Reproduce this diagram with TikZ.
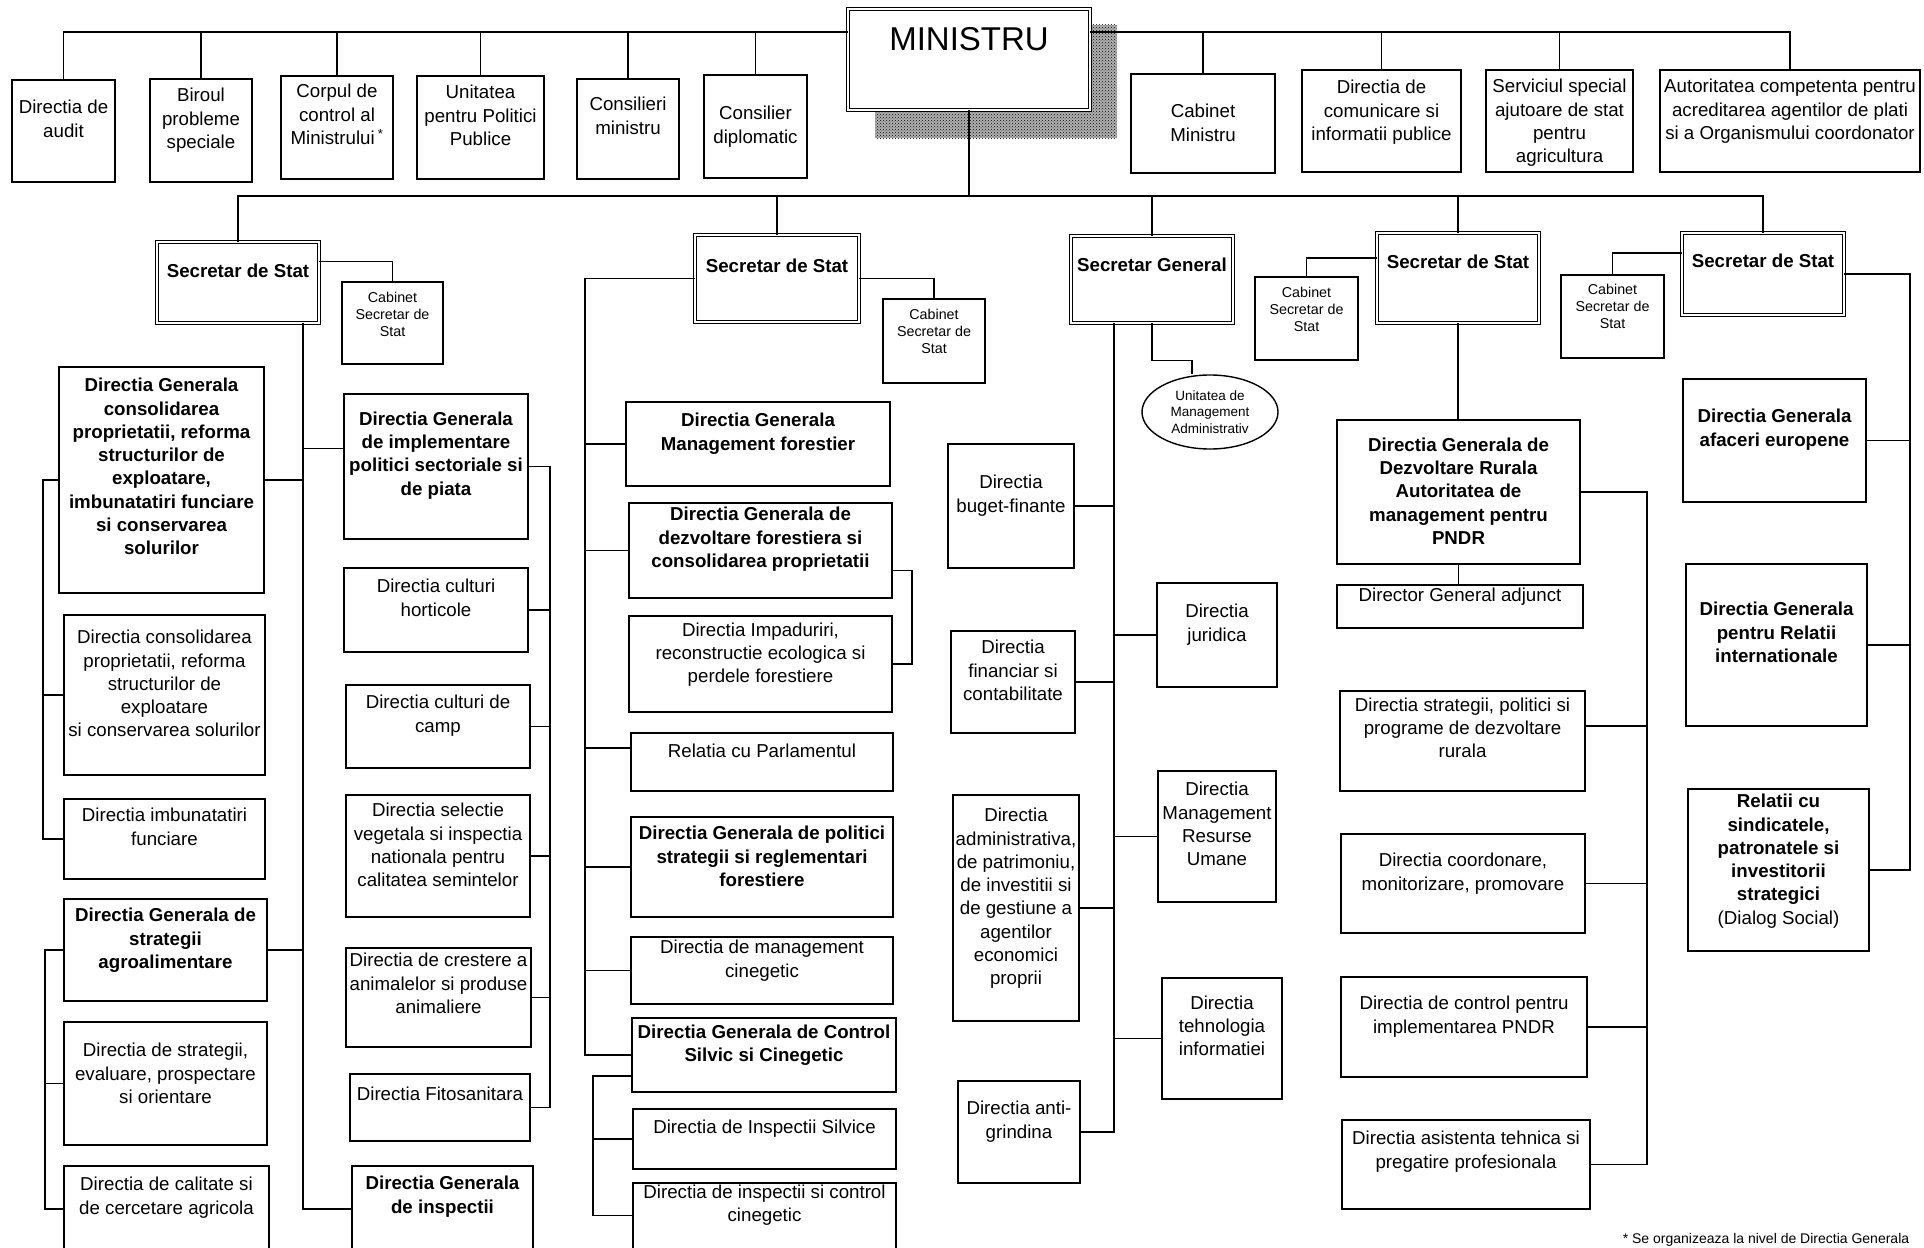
\documentclass[tikz,border=0pt]{standalone}
\usepackage{fontspec}
\setmainfont{Liberation Sans}
\usetikzlibrary{shapes.geometric,patterns}

% box from (x1,y1) to (x2,y2), text hung from its top
\newcommand{\unitbox}[7][tx]{%
  \node[box, minimum width={#5-#3}, minimum height={#6-#4}] (#2) at ({(#3+#5)/2},{(#4+#6)/2}) {};
  \node[#1] (#2-t) at (#2.north) {#7};}

\begin{document}
\begin{tikzpicture}[x=1pt,y=-1pt]
		\tikzstyle{box}=[draw, line width=1.6pt, fill=white, inner sep=0pt, outer sep=0pt]
		\tikzstyle{sec}=[box, double=white, double distance=2.5pt, line width=1.2pt]
		\tikzstyle{tx}=[anchor=north, align=center, inner sep=0pt, font={\fontsize{18.7}{23.3}\selectfont}]
		\tikzstyle{bf}=[tx, font={\fontsize{18.7}{23.3}\selectfont\bfseries}]
		\tikzstyle{sm}=[tx, font={\fontsize{14.3}{17}\selectfont}]
		\tikzstyle{link}=[line width=1.1pt]
		\useasboundingbox (0,0) rectangle (1924,1247);

		% ministru
		\fill[black!30] (875,25) rectangle (1117,138);
		\fill[pattern=crosshatch dots, pattern color=black] (875,25) rectangle (1117,138);
		\node[sec, minimum width=242pt, minimum height=101pt] (min) at (969,59.5) {};
		\node[tx, font={\fontsize{33}{40}\selectfont}, yshift=-18pt] (min-t) at (min.north) {MINISTRU};

		% first row
		\unitbox[tx,yshift=-20pt]{audit}{12}{80}{115}{182}{Directia de\\audit}
		\unitbox[tx,yshift=-9pt]{biroul}{150}{79}{252}{182}{Biroul\\probleme\\speciale}
		\unitbox[tx,yshift=-8pt]{corpul}{281}{76}{393}{179}{Corpul de\\control al\\Ministrului\,\textsuperscript{*}}
		\unitbox[tx,yshift=-9pt]{unitatea}{417}{76}{544}{179}{Unitatea\\pentru Politici\\Publice}
		\unitbox[tx,yshift=-18pt]{consilieri}{577}{79}{679}{179}{Consilieri\\ministru}
		\unitbox[tx,yshift=-31pt]{diplomatic}{704}{75}{807}{178}{Consilier\\diplomatic}
		\unitbox[tx,yshift=-30pt]{cabmin}{1131}{74}{1275}{173}{Cabinet\\Ministru}
		\unitbox[tx,yshift=-10pt]{comunic}{1302}{70}{1461}{172}{Directia de\\comunicare si\\informatii publice}
		\unitbox[tx,yshift=-9pt]{serviciul}{1486}{70}{1633}{172}{Serviciul special\\ajutoare de stat\\pentru\\agricultura}
		\unitbox[tx,yshift=-9pt]{autoritatea}{1660}{70}{1920}{172}{Autoritatea competenta pentru\\acreditarea agentilor de plati\\si a Organismului coordonator}

		\coordinate (topl) at (0,32);
		\draw[link] (audit.north) |- (min.west |- topl);
		\foreach \n in {biroul,corpul,unitatea,consilieri,diplomatic}
			\draw[link] (\n.north) -- (\n.north |- topl);
		\draw[link] (autoritatea.north) |- (min.east |- topl);
		\foreach \n in {cabmin,comunic,serviciul}
			\draw[link] (\n.north) -- (\n.north |- topl);

		% secretaries
		\node[sec, minimum width=162pt, minimum height=81pt] (ss1) at (238,282.5) {};
		\node[bf, yshift=-22pt] (ss1-t) at (ss1.north) {Secretar de Stat};
		\node[sec, minimum width=164pt, minimum height=87pt] (ss2) at (777,278.5) {};
		\node[bf, yshift=-24pt] (ss2-t) at (ss2.north) {Secretar de Stat};
		\node[sec, minimum width=162pt, minimum height=87pt] (sg) at (1152,279.5) {};
		\node[bf, yshift=-22pt] (sg-t) at (sg.north) {Secretar General};
		\node[sec, minimum width=162pt, minimum height=90pt] (ss4) at (1458,278) {};
		\node[bf, yshift=-22pt] (ss4-t) at (ss4.north) {Secretar de Stat};
		\node[sec, minimum width=162pt, minimum height=82pt] (ss5) at (1763,274) {};
		\node[bf, yshift=-21pt] (ss5-t) at (ss5.north) {Secretar de Stat};

		\coordinate (bus) at (0,196);
		\draw[link] (min.south) -- (min.south |- bus);
		\draw[link] (ss1.north) |- (ss5.north |- bus) -- (ss5.north);
		\foreach \n in {ss2,sg,ss4}
			\draw[link] (\n.north) -- (\n.north |- bus);

		% cabinets
		\unitbox[sm,yshift=-10pt]{c1}{342}{282}{443}{364}{Cabinet\\Secretar de\\Stat}
		\unitbox[sm,yshift=-10pt]{c2}{883}{299}{985}{383}{Cabinet\\Secretar de\\Stat}
		\unitbox[sm,yshift=-10pt]{c4}{1255}{277}{1358}{360}{Cabinet\\Secretar de\\Stat}
		\unitbox[sm,yshift=-9pt]{c5}{1561}{275}{1664}{358}{Cabinet\\Secretar de\\Stat}
		\draw[link] ([yshift=21pt]ss1.east) -| (c1.north);
		\draw[link] (ss2.east) -| (c2.north);
		\draw[link] ([yshift=20pt]ss4.west) -| (c4.north);
		\draw[link] ([yshift=21pt]ss5.west) -| (c5.north);

		% first secretar de stat
		\unitbox[bf,yshift=-11pt]{dgc}{59}{367}{264}{593}{Directia Generala\\consolidarea\\proprietatii, reforma\\structurilor de\\exploatare,\\imbunatatiri funciare\\si conservarea\\solurilor}
		\unitbox[bf,yshift=-17.5pt]{dgimpl}{344}{394}{528}{539}{Directia Generala\\de implementare\\politici sectoriale si\\de piata}
		\unitbox[tx,yshift=-15pt]{dcons}{64}{615}{265}{775}{Directia consolidarea\\proprietatii, reforma\\structurilor de\\exploatare\\si conservarea solurilor}
		\unitbox[tx,yshift=-11pt]{hort}{344}{568}{528}{652}{Directia culturi\\horticole}
		\unitbox[tx,yshift=-10pt]{camp}{346}{685}{530}{768}{Directia culturi de\\camp}
		\unitbox[tx,yshift=-9pt]{imb}{64}{799}{265}{879}{Directia imbunatatiri\\funciare}
		\unitbox[tx,yshift=-8pt]{selectie}{346}{795}{530}{917}{Directia selectie\\vegetala si inspectia\\nationala pentru\\calitatea semintelor}
		\unitbox[bf,yshift=-9pt]{dgsa}{64}{899}{267}{1001}{Directia Generala de\\strategii\\agroalimentare}
		\unitbox[tx,yshift=-5pt]{crestere}{346}{948}{531}{1047}{Directia de crestere a\\animalelor si produse\\animaliere}
		\unitbox[tx,yshift=-21pt]{strev}{64}{1022}{267}{1145}{Directia de strategii,\\evaluare, prospectare\\si orientare}
		\unitbox[tx,yshift=-13pt]{fito}{350}{1074}{530}{1141}{Directia Fitosanitara}
		\unitbox[tx,yshift=-11pt]{calit}{64}{1166}{269}{1264}{Directia de calitate si\\de cercetare agricola}
		\unitbox[bf,yshift=-10pt]{dginsp}{352}{1166}{533}{1264}{Directia Generala\\de inspectii}

		\coordinate (sp1) at (303,0);
		\coordinate (sp1r) at (550,0);
		\coordinate (sp1a) at (43,0);
		\coordinate (sp1b) at (45,0);
		\draw[link] (ss1.south -| sp1) |- ([yshift=6pt]dginsp.west);
		\foreach \n in {dgc,dgsa}
			\draw[link] (\n.east) -- (\n.east -| sp1);
		\draw[link] ([yshift=18pt]dgimpl.west) -- ([yshift=18pt]dgimpl.west -| sp1);
		\draw[link] (dgimpl.east) -- (dgimpl.east -| sp1r) |- (fito.east);
		\foreach \n in {hort,camp,selectie,crestere}
			\draw[link] (\n.east) -- (\n.east -| sp1r);
		\draw[link] (dgc.west) -- (dgc.west -| sp1a) |- (imb.west);
		\draw[link] (dcons.west) -- (dcons.west -| sp1a);
		\draw[link] (dgsa.west) -- (dgsa.west -| sp1b) |- ([yshift=6pt]calit.west);
		\draw[link] (strev.west) -- (strev.west -| sp1b);

		% second secretar de stat
		\unitbox[bf,yshift=-11pt]{dgmf}{626}{402}{890}{486}{Directia Generala\\Management forestier}
		\unitbox[bf,yshift=-4pt]{dgdf}{629}{503}{892}{598}{Directia Generala de\\dezvoltare forestiera si\\consolidarea proprietatii}
		\unitbox[tx,yshift=-6.5pt]{impad}{629}{616}{892}{712}{Directia Impaduriri,\\reconstructie ecologica si\\perdele forestiere}
		\unitbox[tx,yshift=-11pt]{parl}{631}{733}{893}{791}{Relatia cu Parlamentul}
		\unitbox[bf,yshift=-9pt]{dgpol}{631}{817}{893}{917}{Directia Generala de politici\\strategii si reglementari\\forestiere}
		\unitbox[tx,yshift=-3pt]{mcin}{631}{937}{893}{1004}{Directia de management\\cinegetic}
		\unitbox[bf,yshift=-6.5pt]{dgctl}{632}{1018}{896}{1092}{Directia Generala de Control\\Silvic si Cinegetic}
		\unitbox[tx,yshift=-11pt]{insil}{633}{1109}{896}{1169}{Directia de Inspectii Silvice}
		\unitbox[tx,yshift=-1.5pt]{incin}{633}{1183}{896}{1264}{Directia de inspectii si control\\cinegetic}

		\coordinate (sp2) at (585,0);
		\coordinate (sp2b) at (593,0);
		\coordinate (sp2r) at (912,0);
		\draw[link] (ss2.west) -- (ss2.west -| sp2) |- (dgctl.west);
		\foreach \n in {dgmf,dgdf,dgpol,mcin}
			\draw[link] (\n.west) -- (\n.west -| sp2);
		\draw[link] ([yshift=14pt]parl.west) -- ([yshift=14pt]parl.west -| sp2);
		\draw[link] ([yshift=-20pt]dgdf.east) -- ([yshift=-20pt]dgdf.east -| sp2r) |- (impad.east);
		\draw[link] ([yshift=-21pt]dgctl.west) -- ([yshift=-21pt]dgctl.west -| sp2b) |- ([yshift=8pt]incin.west);
		\draw[link] (insil.west) -- (insil.west -| sp2b);

		% secretar general
		\node[ellipse, draw, line width=1.4pt, minimum width=136pt, minimum height=74pt, inner sep=0pt, align=center,
			font={\fontsize{13.5}{16.5}\selectfont}] (umad) at (1210,412) {Unitatea de\\Management\\Administrativ};
		\unitbox[tx,yshift=-31pt]{bug}{948}{444}{1074}{568}{Directia\\buget-finante}
		\unitbox[tx,yshift=-9pt]{fin}{951}{631}{1075}{733}{Directia\\financiar si\\contabilitate}
		\unitbox[tx,yshift=-13pt]{adm}{953}{795}{1079}{1021}{Directia\\administrativa,\\de patrimoniu,\\de investitii si\\de gestiune a\\agentilor\\economici\\proprii}
		\unitbox[tx,yshift=-20pt]{anti}{958}{1081}{1080}{1183}{Directia anti-\\grindina}
		\unitbox[tx,yshift=-21pt]{jur}{1157}{583}{1277}{687}{Directia\\juridica}
		\unitbox[tx,yshift=-11pt]{mru}{1158}{771}{1276}{902}{Directia\\Management\\Resurse\\Umane}
		\unitbox[tx,yshift=-17.5pt]{teh}{1162}{978}{1282}{1099}{Directia\\tehnologia\\informatiei}

		\coordinate (sp3) at (1114,0);
		\draw[link] (sg.south -| sp3) |- (anti.east);
		\foreach \n in {bug,fin,adm}
			\draw[link] (\n.east) -- (\n.east -| sp3);
		\foreach \n in {jur,mru,teh}
			\draw[link] (\n.west) -- (\n.west -| sp3);
		\draw[link] (sg.south) |- ([xshift=-18pt,yshift=14pt]umad.north) -- ([xshift=-18pt]umad.north);

		% third secretar de stat
		\unitbox[bf,yshift=-17.5pt]{dgdr}{1337}{420}{1580}{564}{Directia Generala de\\Dezvoltare Rurala\\Autoritatea de\\management pentru\\PNDR}
		\unitbox[tx,yshift=-3pt]{dga}{1337}{585}{1583}{628}{Director General adjunct}
		\unitbox[tx,yshift=-6.5pt]{dsp}{1340}{691}{1585}{791}{Directia strategii, politici si\\programe de dezvoltare\\rurala}
		\unitbox[tx,yshift=-19pt]{dcmp}{1341}{834}{1585}{933}{Directia coordonare,\\monitorizare, promovare}
		\unitbox[tx,yshift=-19pt]{dctl}{1341}{977}{1587}{1077}{Directia de control pentru\\implementarea PNDR}
		\unitbox[tx,yshift=-11pt]{dat}{1342}{1120}{1590}{1209}{Directia asistenta tehnica si\\pregatire profesionala}

		\coordinate (sp4) at (1647,0);
		\draw[link] (ss4.south) -- (ss4.south |- dgdr.north);
		\draw[link] (dgdr.south) -- (dgdr.south |- dga.north);
		\draw[link] (dgdr.east) -- (dgdr.east -| sp4) |- (dat.east);
		\foreach \n in {dcmp,dctl}
			\draw[link] (\n.east) -- (\n.east -| sp4);
		\draw[link] ([yshift=15pt]dsp.east) -- ([yshift=15pt]dsp.east -| sp4);

		% fourth secretar de stat
		\unitbox[bf,yshift=-30pt]{dgae}{1683}{379}{1866}{502}{Directia Generala\\afaceri europene}
		\unitbox[bf,yshift=-38pt]{dgri}{1686}{564}{1867}{726}{Directia Generala\\pentru Relatii\\internationale}
		\unitbox[bf,yshift=-5pt]{rsind}{1688}{789}{1869}{951}{Relatii cu\\sindicatele,\\patronatele si\\investitorii\\strategici\\\textmd{(Dialog Social)}}

		\coordinate (sp5) at (1910,0);
		\draw[link] (ss5.east) -- (ss5.east -| sp5) |- (rsind.east);
		\foreach \n in {dgae,dgri}
			\draw[link] (\n.east) -- (\n.east -| sp5);

		\node[sm, font={\fontsize{14}{17}\selectfont}] (nota) at (1766,1233) {* Se organizeaza la nivel de Directia Generala};
	\end{tikzpicture}
\end{document}
